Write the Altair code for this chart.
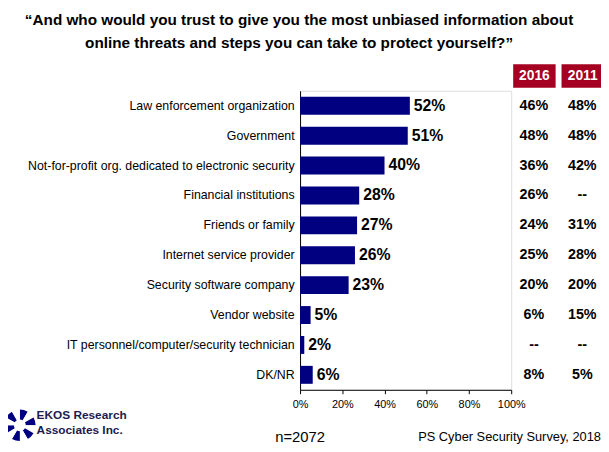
import altair as alt
import pandas as pd

categories = [
    "Law enforcement organization",
    "Government",
    "Not-for-profit org. dedicated to electronic security",
    "Financial institutions",
    "Friends or family",
    "Internet service provider",
    "Security software company",
    "Vendor website",
    "IT personnel/computer/security technician",
    "DK/NR",
]
values_2018 = [52, 51, 40, 28, 27, 26, 23, 5, 2, 6]
labels_2016 = ["46%", "48%", "36%", "26%", "24%", "25%", "20%", "6%", "--", "8%"]
labels_2011 = ["48%", "48%", "42%", "--", "31%", "28%", "20%", "15%", "--", "5%"]
x_ticks = [0, 20, 40, 60, 80, 100]
title_lines = [
    "\u201cAnd who would you trust to give you the most unbiased information about",
    "online threats and steps you can take to protect yourself?\u201d",
]
year_headers = ["2016", "2011"]

df = pd.DataFrame({
    "cat": categories,
    "v": values_2018,
    "lbl": [f"{v}%" for v in values_2018],
    "y2016": labels_2016,
    "y2011": labels_2011,
})

NAVY = "#000080"
RED = "#A50021"
FONT = "Liberation Sans"

y_enc = alt.Y("cat:N", sort=categories,
              scale=alt.Scale(paddingInner=0.4, paddingOuter=0.2),
              axis=alt.Axis(title=None, ticks=False, labelFontSize=12.5, labelFont=FONT,
                            labelColor="black", labelPadding=6, labelLimit=400,
                            domainColor="black", domainWidth=1))

base = alt.Chart(df)

bars = base.mark_bar(color=NAVY).encode(
    x=alt.X("v:Q", scale=alt.Scale(domain=[0, 100], nice=False),
            axis=alt.Axis(title=None, values=x_ticks, grid=False, tickSize=4,
                          tickColor="black", domainColor="black", labelFlush=False,
                          labelExpr="datum.value + '%'", labelFontSize=11,
                          labelFont=FONT, labelColor="black", labelPadding=5)),
    y=y_enc,
)

bar_labels = base.mark_text(align="left", dx=4, fontSize=16, fontWeight="bold",
                            font=FONT, color="black").encode(
    x="v:Q", y=alt.Y("cat:N", sort=categories), text="lbl:N")

col2016 = base.mark_text(align="center", fontSize=14.5, fontWeight="bold",
                         font=FONT, color="black").encode(
    x=alt.value(237), y=alt.Y("cat:N", sort=categories), text="y2016:N")
col2011 = base.mark_text(align="center", fontSize=14.5, fontWeight="bold",
                         font=FONT, color="black").encode(
    x=alt.value(286), y=alt.Y("cat:N", sort=categories), text="y2011:N")

hdr_df = pd.DataFrame({"year": year_headers, "x1": [216, 265], "x2": [259, 308]})
hdr_df["xc"] = (hdr_df["x1"] + hdr_df["x2"]) / 2
hdr_boxes = alt.Chart(hdr_df).mark_rect(color=RED).encode(
    x=alt.X("x1:Q", scale=None), x2="x2:Q",
    y=alt.value(-27), y2=alt.value(-3))
hdr_text = alt.Chart(hdr_df).mark_text(color="white", fontSize=14, fontWeight="bold",
                                      font=FONT, baseline="middle").encode(
    x=alt.X("xc:Q", scale=None), y=alt.value(-15), text="year:N")

title_df = pd.DataFrame({"t": title_lines, "yy": [-72, -48]})
title = alt.Chart(title_df).mark_text(fontSize=15.5, fontWeight="bold", font=FONT,
                                      color="black", baseline="middle").encode(
    x=alt.value(-1), y=alt.Y("yy:Q", scale=None), text="t:N")

footer_n = alt.Chart(pd.DataFrame({"t": ["n=2072"]})).mark_text(
    fontSize=15, font=FONT, color="black", baseline="middle").encode(
    x=alt.value(0), y=alt.value(351), text="t:N")
footer_src = alt.Chart(pd.DataFrame({"t": ["PS Cyber Security Survey, 2018"]})).mark_text(
    fontSize=13, font=FONT, color="black", align="right", baseline="middle").encode(
    x=alt.value(305), y=alt.value(351), text="t:N")

ekos_df = pd.DataFrame({"t": ["EKOS Research", "Associates Inc."], "yy": [329, 344]})
ekos = alt.Chart(ekos_df).mark_text(fontSize=12, fontWeight="bold", font=FONT,
                                    color="#1B1B4D", align="left", baseline="middle").encode(
    x=alt.value(-267), y=alt.Y("yy:Q", scale=None), text="t:N")

logo_df = pd.DataFrame({"seg": list(range(12)), "w": [1] * 12,
                        "c": [NAVY, "white"] * 6})
logo = alt.Chart(logo_df).mark_arc(innerRadius=6, outerRadius=16).encode(
    theta=alt.Theta("w:Q", stack=True), order="seg:O",
    color=alt.Color("c:N", scale=None),
    x=alt.value(-284), y=alt.value(339))

chart = alt.layer(
    bars, bar_labels, col2016, col2011, hdr_boxes, hdr_text, title,
    footer_n, footer_src, ekos, logo
).properties(
    width=214, height=303,
    autosize=alt.AutoSizeParams(type="none"),
    padding={"left": 296, "top": 81, "right": 91, "bottom": 52},
).configure_view(stroke=None).configure(background="white")

chart.save("out.html", embed_options={"renderer": "svg", "actions": False})
